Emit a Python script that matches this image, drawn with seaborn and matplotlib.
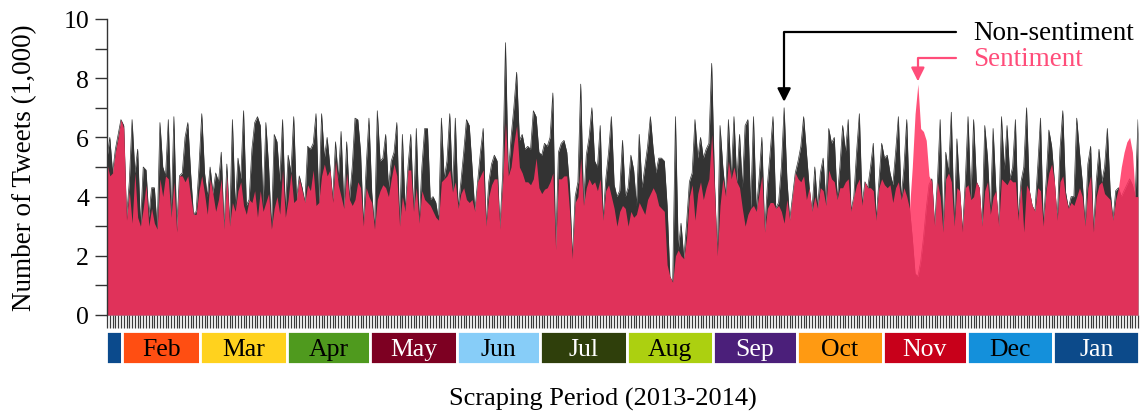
import numpy as np
import pandas as pd
import seaborn as sns
import matplotlib.pyplot as plt

# Daily tweets (in thousands), 26 Jan 2013 - 31 Jan 2014
non_sentiment = [
    # Jan 26 - Mar 12
    5.3, 6.0, 4.8, 5.6, 6.1, 6.6, 6.4, 3.3, 4.5, 6.6, 4.8, 5.6, 3.0, 5.0, 4.9, 3.3,
    4.3, 4.3, 2.9, 6.5, 5.0, 4.7, 6.6, 3.3, 6.7, 2.9, 4.7, 4.8, 6.0, 6.5, 4.8, 3.4,
    3.5, 5.0, 6.8, 4.8, 4.0, 5.0, 4.1, 4.8, 4.5, 5.5, 2.9, 5.1, 3.0, 6.6,
    # Mar 13 - Apr 28
    3.6, 5.3, 4.6, 6.9, 3.7, 3.9, 5.6, 6.5, 6.7, 6.4, 3.7, 6.5, 5.0, 2.9, 6.1, 5.85,
    4.5, 6.6, 3.5, 5.4, 4.8, 6.7, 3.9, 4.7, 4.3, 3.8, 5.7, 5.6, 5.8, 6.8, 3.8, 6.8,
    5.3, 6.0, 5.0, 3.9, 5.85, 4.6, 6.2, 3.6, 5.85, 3.9, 5.0, 6.65, 6.6, 5.5, 3.0,
    # Apr 29 - Jun 14
    5.0, 6.65, 4.15, 2.9, 6.9, 5.2, 5.3, 6.1, 4.3, 5.2, 5.5, 6.5, 3.0, 6.1, 3.5, 5.0,
    6.1, 3.5, 6.3, 3.1, 5.0, 6.3, 6.3, 3.9, 4.0, 3.8, 3.2, 6.65, 4.6, 5.2, 6.8, 4.15,
    6.65, 3.6, 4.5, 5.5, 6.6, 6.4, 5.0, 3.5, 4.5, 5.5, 6.3, 3.0, 4.5, 5.1, 5.4,
    # Jun 15 - Jul 31
    5.2, 2.9, 4.8, 9.2, 4.7, 6.0, 7.0, 8.2, 5.9, 6.1, 5.6, 5.7, 5.6, 6.9, 6.7, 5.5,
    5.4, 5.8, 5.7, 6.0, 7.5, 2.2, 5.5, 5.8, 5.9, 5.5, 4.3, 1.9, 4.0, 4.5, 7.8, 3.7,
    5.4, 6.0, 7.0, 5.2, 5.0, 6.4, 3.2, 4.6, 5.5, 6.7, 4.4, 4.0, 4.2, 5.9, 4.0,
    # Aug 1 - Sep 15
    4.3, 5.4, 4.9, 3.7, 6.1, 4.3, 5.0, 5.7, 6.7, 5.6, 4.8, 5.3, 5.3, 5.2, 3.7, 1.3,
    1.1, 6.7, 2.2, 3.1, 1.9, 3.1, 4.5, 4.8, 6.6, 5.3, 6.0, 5.3, 5.6, 5.8, 8.5, 4.5,
    2.0, 6.4, 5.0, 4.0, 6.6, 4.6, 6.7, 4.5, 6.1, 4.3, 6.4, 6.6, 3.6, 6.7,
    # Sep 16 - Nov 1
    3.5, 4.6, 6.0, 2.8, 4.4, 5.5, 6.7, 3.6, 3.8, 5.0, 7.0, 4.6, 3.2, 4.0, 4.8, 5.2,
    5.7, 6.7, 5.5, 4.3, 3.5, 5.0, 3.6, 4.8, 5.3, 3.7, 6.3, 5.8, 6.0, 3.9, 5.0, 6.4,
    5.5, 6.6, 3.5, 4.0, 5.5, 6.8, 3.7, 4.5, 4.3, 5.0, 5.8, 3.2, 4.5, 5.8, 5.3,
    # Nov 2 - Dec 18
    5.4, 4.8, 4.4, 5.5, 6.7, 3.9, 5.0, 6.6, 3.6, 2.6, 1.4, 1.3, 1.8, 2.6, 3.6, 4.4,
    4.6, 3.0, 4.5, 6.6, 2.8, 5.5, 4.8, 6.85, 3.0, 5.95, 4.2, 2.8, 4.5, 6.7, 3.9, 6.6,
    4.5, 4.3, 3.0, 6.4, 5.3, 3.4, 6.3, 4.2, 3.0, 6.7, 4.9, 6.4, 4.6, 5.0, 6.6,
    # Dec 19 - Jan 31
    3.2, 4.5, 5.0, 7.0, 4.2, 3.7, 3.5, 5.0, 6.65, 3.0, 4.5, 6.25, 5.7, 4.5, 3.2, 5.6,
    6.9, 4.15, 3.6, 4.0, 4.0, 6.65, 5.5, 4.5, 3.0, 5.1, 5.7, 2.8, 4.5, 5.6, 4.5, 5.0,
    6.3, 4.2, 3.2, 4.2, 4.3, 4.0, 4.2, 4.4, 4.6, 4.4, 4.0, 6.6,
]

sentiment = [
    # Jan 26 - Mar 12
    5.1, 4.7, 4.8, 5.5, 6.0, 6.6, 6.3, 3.2, 4.2, 3.1, 4.8, 3.3, 3.0, 3.6, 4.4, 3.0,
    3.6, 3.1, 2.9, 4.6, 4.0, 4.7, 4.6, 3.3, 4.5, 2.8, 4.7, 4.7, 4.5, 4.7, 4.0, 3.4,
    3.4, 4.2, 4.7, 4.1, 3.4, 4.6, 4.1, 3.5, 3.9, 4.6, 2.9, 4.7, 3.0, 3.8,
    # Mar 13 - Apr 28
    3.5, 4.2, 4.5, 3.7, 3.4, 3.9, 3.8, 4.2, 3.3, 4.2, 3.5, 3.8, 4.1, 2.9, 3.6, 4.0,
    3.4, 4.9, 3.3, 3.9, 4.8, 3.8, 3.9, 4.6, 4.2, 3.8, 4.4, 4.2, 4.9, 3.7, 3.8, 4.7,
    5.1, 4.7, 4.9, 3.8, 5.2, 4.4, 4.0, 3.6, 4.8, 3.9, 3.7, 3.9, 4.5, 4.3, 3.0,
    # Apr 29 - Jun 14
    4.3, 4.0, 3.8, 2.9, 3.9, 4.2, 4.4, 4.3, 4.0, 4.6, 5.1, 4.7, 3.0, 4.0, 3.5, 4.9,
    4.9, 3.5, 4.3, 3.1, 4.2, 3.9, 3.8, 3.7, 3.5, 3.3, 3.2, 4.5, 4.6, 4.7, 4.9, 4.15,
    4.5, 3.6, 4.1, 4.3, 3.9, 3.8, 3.9, 3.5, 4.5, 4.7, 4.9, 3.0, 4.0, 4.4, 4.6,
    # Jun 15 - Jul 31
    4.6, 2.9, 4.5, 6.5, 4.7, 5.0, 5.8, 6.4, 5.0, 4.8, 4.5, 4.5, 4.4, 4.6, 5.3, 4.3,
    4.1, 4.25, 4.3, 4.5, 4.8, 2.2, 4.6, 4.6, 4.7, 4.7, 3.5, 1.9, 3.8, 4.0, 5.3, 3.7,
    4.3, 4.6, 4.4, 4.5, 4.2, 4.6, 3.2, 4.2, 4.4, 4.0, 3.6, 3.0, 3.5, 3.7, 3.6,
    # Aug 1 - Sep 15
    3.0, 3.5, 3.3, 3.4, 3.8, 3.6, 3.4, 3.9, 4.1, 4.3, 4.1, 3.7, 3.6, 3.5, 1.7, 1.3,
    1.1, 2.0, 2.2, 2.0, 1.9, 2.6, 4.0, 4.4, 3.2, 4.1, 4.5, 3.9, 4.3, 4.6, 6.1, 4.2,
    2.0, 3.7, 4.6, 4.0, 5.2, 4.6, 5.0, 4.5, 4.3, 3.6, 3.0, 3.4, 3.6, 3.7,
    # Sep 16 - Nov 1
    3.5, 4.1, 4.7, 2.8, 3.6, 3.8, 3.8, 3.6, 3.7, 3.5, 3.1, 3.9, 3.2, 4.0, 4.8, 4.6,
    4.5, 4.7, 3.9, 4.3, 3.5, 4.0, 3.6, 4.3, 4.2, 3.7, 4.9, 4.6, 4.5, 3.9, 4.3, 4.3,
    4.5, 4.6, 3.5, 4.0, 4.4, 4.6, 3.7, 4.5, 4.3, 4.3, 4.2, 3.2, 4.3, 4.6, 4.4,
    # Nov 2 - Dec 18
    4.3, 4.4, 3.8, 4.3, 4.5, 3.9, 4.3, 4.0, 3.6, 5.0, 6.8, 7.8, 6.3, 6.2, 5.9, 4.7,
    4.5, 3.0, 4.5, 4.0, 2.8, 4.6, 4.8, 4.5, 3.0, 4.3, 4.2, 2.8, 4.3, 4.4, 3.9, 4.0,
    4.5, 4.3, 3.0, 4.2, 4.5, 3.4, 4.0, 4.2, 3.0, 4.6, 4.5, 4.4, 4.6, 4.5, 4.5,
    # Dec 19 - Jan 31
    3.2, 4.4, 2.8, 4.4, 4.2, 3.7, 3.5, 4.3, 4.2, 3.0, 4.2, 4.8, 5.1, 4.5, 3.2, 4.5,
    4.7, 4.0, 3.6, 3.8, 3.7, 4.0, 4.3, 4.0, 3.0, 4.3, 4.7, 2.8, 4.0, 4.4, 4.5, 4.1,
    4.0, 3.9, 3.2, 3.9, 4.3, 5.0, 5.5, 5.85, 6.0, 5.5, 4.0, 4.0,
]

month_labels = ['', 'Feb', 'Mar', 'Apr', 'May', 'Jun', 'Jul',
                'Aug', 'Sep', 'Oct', 'Nov', 'Dec', 'Jan']
month_colors = ['#0b4a8c', '#ff4e12', '#ffd21e', '#4f9a1e', '#7d0022', '#87cdf8', '#2f3f0b',
                '#acd010', '#4b1f7a', '#ff9a12', '#c8001a', '#1490db', '#0c4a8a']
month_text = ['white', 'black', 'black', 'black', 'white', 'black', 'white',
              'black', 'white', 'black', 'white', 'black', 'white']

dates = pd.date_range('2013-01-26', '2014-01-31', freq='D')
df = pd.DataFrame({'day': np.arange(len(dates)), 'date': dates,
                   'non_sentiment': non_sentiment, 'sentiment': sentiment})

sns.set_theme(style='ticks')
plt.rcParams['font.family'] = ['Liberation Serif', 'DejaVu Serif']
plt.rcParams['text.color'] = 'black'
plt.rcParams['xtick.color'] = 'black'
plt.rcParams['ytick.color'] = 'black'
plt.rcParams['axes.labelcolor'] = 'black'

dark = '#333333'
pink = '#ff3261'
label_pink = '#ff4d7a'

W, H = 1142, 414
fig = plt.figure(figsize=(W / 100, H / 100), dpi=100)
ax = fig.add_axes([107 / W, 1 - 316 / H, 1031 / W, 296 / H])
bar_ax = fig.add_axes([107 / W, 1 - 365 / H, 1031 / W, 33 / H])

# non-sentiment area underneath, sentiment area semi-transparent on top
ax.fill_between(df['day'], df['non_sentiment'], color=dark, lw=0, zorder=1)
sns.lineplot(data=df, x='day', y='non_sentiment', color=dark, lw=0.5, ax=ax, zorder=1)
ax.fill_between(df['day'], df['sentiment'], color=pink, alpha=0.85, lw=0, zorder=1)

ax.set_xlim(0, len(df) - 1)
ax.set_ylim(0, 10)
ax.set_xticks(df['day'])
ax.set_xticklabels([])
ax.set_yticks(range(0, 11, 2))
ax.set_yticks(range(1, 10, 2), minor=True)
ax.tick_params(axis='x', length=9, width=0.9, color='#3a3a3a', direction='out')
ax.tick_params(axis='y', which='both', length=9, width=1, color='#333333',
               labelsize=18.5, pad=4, labelcolor='black')
for side in ['top', 'right', 'bottom']:
    ax.spines[side].set_visible(False)
ax.spines['left'].set_color('#333333')
ax.spines['left'].set_linewidth(1)
ax.set_xlabel('')
ax.set_ylabel('Number of Tweets (1,000)', fontsize=19.5, color='black')
ax.yaxis.set_label_coords(-0.068, 0.5)

# annotations
ns_day = 243
ax.annotate('', xy=(ns_day, df.loc[ns_day, 'non_sentiment'] + 0.2), xytext=(304.6, 9.56),
            arrowprops=dict(arrowstyle='-|>', connectionstyle='angle,angleA=0,angleB=90,rad=0',
                            color='black', lw=1.6, shrinkA=0, shrinkB=0, mutation_scale=20),
            annotation_clip=False)
ax.text(310.8, 9.56, 'Non-sentiment', fontsize=19.5, color='black', ha='left', va='center')

s_day = df['sentiment'].idxmax()
ax.annotate('', xy=(s_day, df.loc[s_day, 'sentiment'] + 0.1), xytext=(304.6, 8.68),
            arrowprops=dict(arrowstyle='-|>', connectionstyle='angle,angleA=0,angleB=90,rad=0',
                            color=label_pink, lw=1.6, shrinkA=0, shrinkB=0, mutation_scale=20),
            annotation_clip=False)
ax.text(310.8, 8.68, 'Sentiment', fontsize=19.5, color=label_pink, ha='left', va='center')

# month strip
months = df.groupby(df['date'].dt.to_period('M'))['day'].agg(['min', 'count'])
starts = months['min'].values - 0.5
widths = months['count'].values
bar_ax.bar(starts, 1, width=widths, align='edge', color=month_colors,
           edgecolor='white', linewidth=2, clip_on=False)
for s, w, lab, tc in zip(starts, widths, month_labels, month_text):
    bar_ax.text(s + w / 2, 0.45, lab, ha='center', va='center', fontsize=18.5, color=tc)
bar_ax.set_xlim(0, len(df) - 1)
bar_ax.set_ylim(0, 1)
bar_ax.axis('off')

fig.text(603 / W, 1 - 399 / H, 'Scraping Period (2013-2014)', ha='center', va='center',
         fontsize=19, color='black')

fig.savefig('out.png', dpi=100)
